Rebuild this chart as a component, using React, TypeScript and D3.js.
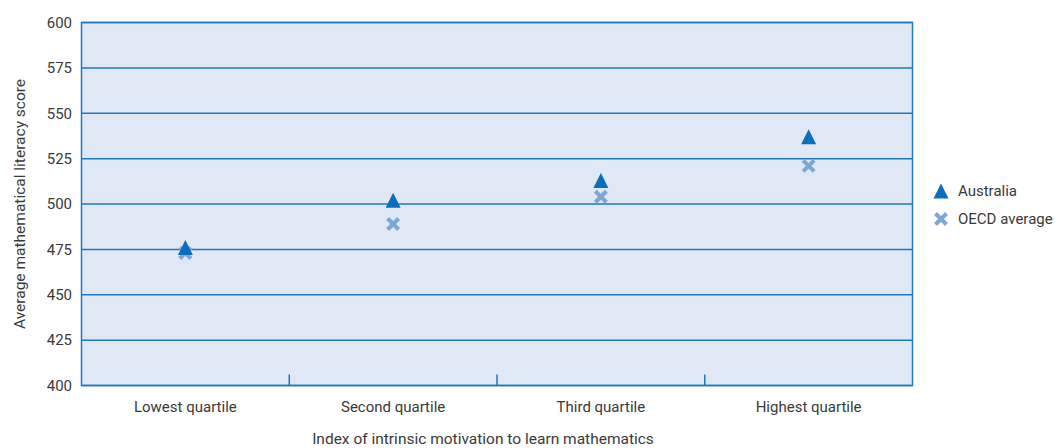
import React from "react";
import * as d3 from "d3";

const categories = ["Lowest quartile", "Second quartile", "Third quartile", "Highest quartile"];
const australia = [476, 502, 513, 537];
const oecd = [473, 489, 504, 521];
const yTicks = [400, 425, 450, 475, 500, 525, 550, 575, 600];
const seriesNames = ["Australia", "OECD average"];

const W = 1055, H = 448;
const M = { left: 81.5, right: 912.5, top: 22.5, bottom: 385.5 };
const FONT = "'Liberation Sans Narrow', 'Roboto', sans-serif";
const C_AUS = "#0a6ebd";
const C_OECD = "#7ea7d8";
const C_GRID = "#1f78c1";
const C_TEXT = "#3a3a3a";

const triPath = (cx: number, cy: number, s: number) =>
  `M${cx},${cy - s / 2}L${cx + s / 2},${cy + s / 2}L${cx - s / 2},${cy + s / 2}Z`;

function XMark({ cx, cy }: { cx: number; cy: number }) {
  const h = 5.5;
  return (
    <g stroke={C_OECD} strokeWidth={4}>
      <line x1={cx - h} y1={cy - h} x2={cx + h} y2={cy + h} />
      <line x1={cx - h} y1={cy + h} x2={cx + h} y2={cy - h} />
    </g>
  );
}

export default function App() {
  const x = d3.scaleBand<string>().domain(categories).range([M.left, M.right]);
  const y = d3.scaleLinear().domain([400, 600]).range([M.bottom, M.top]);
  const cx = (c: string) => (x(c) as number) + x.bandwidth() / 2;

  return (
    <svg width={W} height={H} style={{ position: "absolute", left: 0, top: 0 }}>
      <rect x={M.left} y={M.top} width={M.right - M.left} height={M.bottom - M.top} fill="#e1e8f5" />
      {yTicks.map((t) => (
        <g key={t}>
          <line x1={M.left} x2={M.right} y1={y(t)} y2={y(t)} stroke={C_GRID} strokeWidth={1.5} />
          <text x={72} y={y(t)} dy="0.35em" textAnchor="end" fontFamily={FONT} fontSize={15} fill={C_TEXT}>
            {t}
          </text>
        </g>
      ))}
      <rect x={M.left} y={M.top} width={M.right - M.left} height={M.bottom - M.top} fill="none" stroke={C_GRID} strokeWidth={1.5} />
      {categories.slice(1).map((c) => (
        <line key={c} x1={x(c)} x2={x(c)} y1={M.bottom} y2={M.bottom - 11} stroke={C_GRID} strokeWidth={1.5} />
      ))}
      {categories.map((c) => (
        <text key={c} x={cx(c)} y={412} textAnchor="middle" fontFamily={FONT} fontSize={15} fill={C_TEXT}>
          {c}
        </text>
      ))}
      <text x={483} y={444} textAnchor="middle" fontFamily={FONT} fontSize={15.5} fill={C_TEXT}>
        Index of intrinsic motivation to learn mathematics
      </text>
      <text
        transform={`translate(25,${(M.top + M.bottom) / 2}) rotate(-90)`}
        textAnchor="middle"
        fontFamily={FONT}
        fontSize={15.5}
        fill={C_TEXT}
      >
        Average mathematical literacy score
      </text>
      {categories.map((c, i) => (
        <XMark key={"o" + c} cx={cx(c)} cy={y(oecd[i])} />
      ))}
      {categories.map((c, i) => (
        <path key={"a" + c} d={triPath(cx(c), y(australia[i]), 15)} fill={C_AUS} />
      ))}
      <path d={triPath(941, 191, 15)} fill={C_AUS} />
      <text x={958} y={191} dy="0.35em" fontFamily={FONT} fontSize={15} fill={C_TEXT}>
        {seriesNames[0]}
      </text>
      <XMark cx={941} cy={219} />
      <text x={958} y={219} dy="0.35em" fontFamily={FONT} fontSize={15} fill={C_TEXT}>
        {seriesNames[1]}
      </text>
    </svg>
  );
}
